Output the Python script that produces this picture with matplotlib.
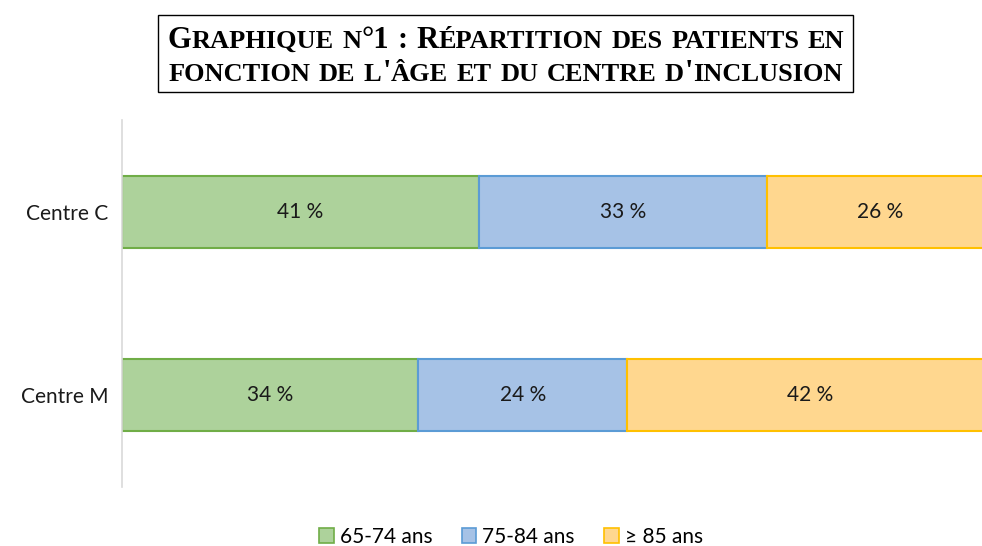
import matplotlib
matplotlib.use("Agg")
import matplotlib.pyplot as plt
from matplotlib.patches import Rectangle, Patch
from matplotlib.transforms import IdentityTransform

# data
centres = ["Centre M", "Centre C"]
age_groups = ["65-74 ans", "75-84 ans", "\u2265 85 ans"]
pct_65_74 = [34, 41]
pct_75_84 = [24, 33]
pct_85_plus = [42, 26]
labels_65_74 = ["34 %", "41 %"]
labels_75_84 = ["24 %", "33 %"]
labels_85_plus = ["42 %", "26 %"]

title_lines = ["Graphique n\u00b01 : R\u00e9partition des patients en",
               "fonction de l'\u00e2ge et du centre d'inclusion"]

fills = ["#ADD29B", "#A6C2E6", "#FFD78F"]
edges = ["#70AD47", "#5B9BD5", "#FFC000"]
lab_font = ["Lato", "DejaVu Sans"]

fig = plt.figure(figsize=(9.82, 5.46), dpi=100)
W, H = 982, 546

# axes extend a little past the right edge (bars are cut in the original)
ax = fig.add_axes([122 / W, (H - 487) / H, 871 / W, 367 / H])
ax.set_xlim(0, 100)
ax.set_ylim(-0.5, 1.5)

series = [pct_65_74, pct_75_84, pct_85_plus]
texts = [labels_65_74, labels_75_84, labels_85_plus]
left = [0, 0]
ypos = range(len(centres))
for vals, labs, fc, ec in zip(series, texts, fills, edges):
    bars = ax.barh(ypos, vals, left=left, height=0.395, color=fc,
                   edgecolor=ec, linewidth=1.5)
    for b, lab in zip(bars, labs):
        ax.text(b.get_x() + b.get_width() / 2, b.get_y() + b.get_height() / 2,
                lab, ha="center", va="center", fontsize=15,
                family=lab_font, color="#1a1a1a")
    left = [l + v for l, v in zip(left, vals)]

ax.set_yticks(list(ypos))
ax.set_yticklabels(centres, fontsize=15, family=lab_font, color="#1a1a1a")
ax.tick_params(axis="y", length=0, pad=10)
ax.set_xticks([])
for s in ["top", "right", "bottom"]:
    ax.spines[s].set_visible(False)
ax.spines["left"].set_color("#D9D9D9")
ax.spines["left"].set_linewidth(1.2)

# legend
handles = [Patch(facecolor=fc, edgecolor=ec, linewidth=1.2, label=g)
           for fc, ec, g in zip(fills, edges, age_groups)]
fig.legend(handles=handles, loc="center", bbox_to_anchor=(511 / W, 1 - 537 / H),
           ncol=3, frameon=False, prop={"family": lab_font, "size": 15},
           handlelength=0.7, handleheight=0.7, handletextpad=0.3,
           columnspacing=1.4)

# title in bold small caps, drawn piece by piece
BIG, SMALL = 22, 19
renderer = fig.canvas.get_renderer()


def small_caps_line(line, y_px, cx_px):
    pieces = []
    for word in line.split(" "):
        runs = []
        for ch in word:
            big = not ch.islower()
            if runs and runs[-1][1] == big:
                runs[-1][0] += ch.upper()
            else:
                runs.append([ch.upper(), big])
        pieces.append(runs)
    drawn = []
    x = 0.0
    space = SMALL * 0.3 * 100 / 72
    for runs in pieces:
        for s, big in runs:
            t = fig.text(x, H - y_px, s, transform=IdentityTransform(),
                         fontsize=BIG if big else SMALL, weight="bold",
                         family="Liberation Serif", va="baseline")
            w = t.get_window_extent(renderer).width
            drawn.append(t)
            x += w + 0.5
        x += space
    total = x - space
    shift = cx_px - total / 2
    for t in drawn:
        px, py = t.get_position()
        t.set_position((px + shift, py))


small_caps_line(title_lines[0], 48, 506)
small_caps_line(title_lines[1], 81, 506)
fig.patches.append(Rectangle((158 / W, 1 - 92 / H), 695 / W, 77 / H,
                             transform=fig.transFigure, fill=False,
                             edgecolor="black", linewidth=1.0))

fig.savefig("out.png", dpi=100)
